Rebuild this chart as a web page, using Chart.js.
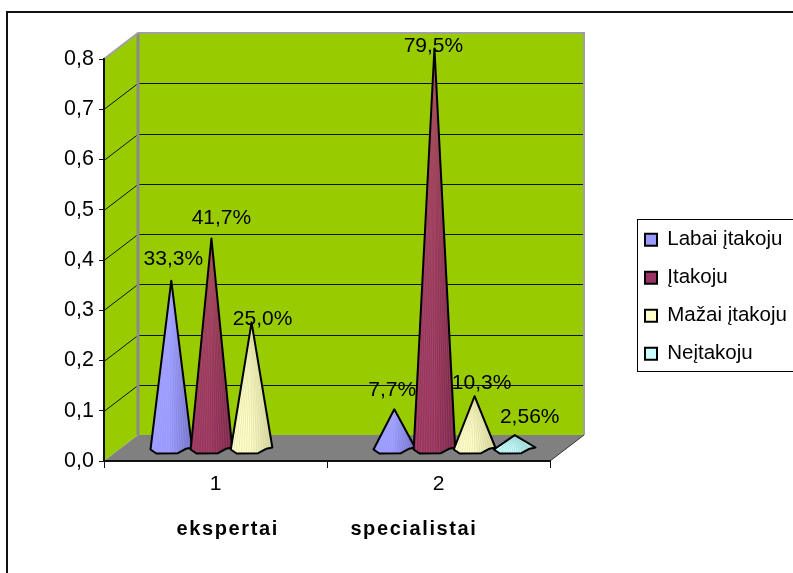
<!DOCTYPE html>
<html>
<head>
<meta charset="utf-8">
<style>html,body{margin:0;padding:0;background:#fff}canvas{display:block}</style>
<script src="https://cdn.jsdelivr.net/npm/chart.js@4/dist/chart.umd.js"></script>
</head>
<body>
<canvas id="c" width="793" height="573"></canvas>
<script>
const categories = ['1', '2'];
const yTickLabels = ['0,0', '0,1', '0,2', '0,3', '0,4', '0,5', '0,6', '0,7', '0,8'];
const seriesNames = ['Labai įtakoju', 'Įtakoju', 'Mažai įtakoju', 'Neįtakoju'];
const labaiItakoju = [0.333, 0.077];
const itakoju = [0.417, 0.795];
const mazaiItakoju = [0.25, 0.103];
const neitakoju = [null, 0.0256];
const labaiLabels = ['33,3%', '7,7%'];
const itakojuLabels = ['41,7%', '79,5%'];
const mazaiLabels = ['25,0%', '10,3%'];
const neitakojuLabels = [null, '2,56%'];
const axisTitle = 'ekspertai          specialistai';

const FONT = '"Liberation Sans", Arial, sans-serif';
const DEPTH_X = 34, DEPTH_Y = -26;
const fills = ['#9999FF', '#993366', '#FFFFCC', '#CCFFFF'];
const shades = ['#6f6fc4', '#7a2450', '#d6d6a4', '#a4d8d8'];
const streaks = ['rgba(200,200,255,.2)', 'rgba(200,150,70,.22)', 'rgba(190,190,120,.3)', 'rgba(130,190,190,.45)'];
const pointLabels = [labaiLabels, itakojuLabels, mazaiLabels, neitakojuLabels];
// Excel's hand-moved label offsets from the cone tip, [dx, dy] per series per category
const labelNudge = [
  [[2, -21], [-2, -19]],
  [[10, -20], [-1, -2]],
  [[11, -3], [7, -13]],
  [[0, 0], [15, -18]]
];
// lower rim of a cone, from right to left, in units of its half width / rim depth
const rim = [[1, 0], [.72, .2], [.32, .95], [-.72, 1], [-1, .33]];

function conePath(ctx, cx, tip, by, hw) {
  ctx.beginPath();
  ctx.moveTo(cx, tip);
  rim.forEach(p => ctx.lineTo(cx + p[0] * hw, by + p[1] * 6));
  ctx.closePath();
}

const scene = {
  id: 'scene',
  afterLayout(chart) {
    const lg = chart.legend;
    lg.left = 627.5; lg.right = 800; lg.top = 212; lg.bottom = 573;
    const s = chart.scales.x;
    if (!s._spaced) {
      const orig = s.drawTitle.bind(s);
      s.drawTitle = function () {
        chart.ctx.save();
        chart.ctx.letterSpacing = '1.6px';
        orig();
        chart.ctx.restore();
      };
      s._spaced = true;
    }
  },
  beforeDraw(chart) {
    const { ctx, chartArea: a, scales: { y } } = chart;
    ctx.save();
    ctx.fillStyle = '#fff';
    ctx.fillRect(0, 0, chart.width, chart.height);
    // frame of the picture: only top and left survive in the crop
    ctx.fillStyle = '#111';
    ctx.fillRect(6, 11, 2, chart.height - 11);
    ctx.fillRect(6, 11, chart.width - 6, 2);

    const bl = a.left + DEPTH_X, br = a.right + DEPTH_X, bt = a.top + DEPTH_Y, bb = a.bottom + DEPTH_Y;
    // back wall
    ctx.fillStyle = '#99CC00';
    ctx.fillRect(bl, bt, br - bl, bb - bt);
    // side wall
    ctx.beginPath();
    ctx.moveTo(a.left, a.top); ctx.lineTo(bl, bt); ctx.lineTo(bl, bb); ctx.lineTo(a.left, a.bottom); ctx.closePath();
    ctx.fill();
    // floor
    ctx.fillStyle = '#808080';
    ctx.beginPath();
    ctx.moveTo(a.left, a.bottom); ctx.lineTo(bl, bb); ctx.lineTo(br, bb); ctx.lineTo(a.right, a.bottom); ctx.closePath();
    ctx.fill();
    // gridlines along side and back wall
    ctx.strokeStyle = '#111';
    ctx.lineWidth = 1;
    y.ticks.forEach(t => {
      if (t.value < 0.05) return;
      const py = Math.round(y.getPixelForValue(t.value));
      if (t.value > 0.75) return;
      ctx.beginPath();
      ctx.moveTo(a.left, py + .5); ctx.lineTo(bl, py + DEPTH_Y + .5); ctx.lineTo(br, py + DEPTH_Y + .5);
      ctx.stroke();
    });
    // wall edges
    ctx.strokeStyle = '#8a8a8a';
    ctx.lineWidth = 3;
    ctx.beginPath(); ctx.moveTo(bl, bt); ctx.lineTo(bl, bb); ctx.stroke();
    ctx.lineWidth = 2;
    ctx.strokeStyle = '#a0a0a0';
    ctx.beginPath(); ctx.moveTo(a.left, a.top); ctx.lineTo(bl, bt); ctx.lineTo(br, bt); ctx.lineTo(br, bb); ctx.stroke();
    // floor right edge
    ctx.strokeStyle = '#333';
    ctx.lineWidth = 1;
    ctx.beginPath(); ctx.moveTo(a.right, a.bottom); ctx.lineTo(br, bb); ctx.stroke();
    // legend frame
    ctx.strokeStyle = '#000';
    ctx.strokeRect(637.5, 219.5, 170, 152);
    ctx.restore();
  },
  beforeDatasetsDraw(chart) {
    const { ctx } = chart;
    ctx.save();
    const dx = DEPTH_X / 2 - 1, dy = DEPTH_Y / 2;
    const cols = chart.data.labels.length;
    for (let c = 0; c < cols; c++) {
      chart.data.datasets.forEach((ds, i) => {
        const el = chart.getDatasetMeta(i).data[c];
        if (ds.data[c] == null) return;
        const cx = el.x + dx, tip = el.y + dy, by = el.base + dy, hw = el.width / 2 + .7;
        const g = ctx.createLinearGradient(cx - hw, 0, cx + hw, 0);
        g.addColorStop(0, fills[i]);
        g.addColorStop(.45, fills[i]);
        g.addColorStop(1, shades[i]);
        conePath(ctx, cx, tip, by, hw);
        ctx.fillStyle = g;
        ctx.fill();
        ctx.save();
        ctx.clip();
        ctx.strokeStyle = streaks[i];
        ctx.lineWidth = 1;
        for (let k = -7; k <= 7; k++) {
          ctx.beginPath();
          ctx.moveTo(cx + k * hw / 60, tip);
          ctx.lineTo(cx + k * hw / 8, by + 6);
          ctx.stroke();
        }
        ctx.restore();
        conePath(ctx, cx, tip, by, hw);
        ctx.strokeStyle = '#000';
        ctx.lineWidth = 2;
        ctx.lineJoin = 'round';
        ctx.stroke();
      });
    }
    ctx.fillStyle = '#000';
    ctx.font = '21px ' + FONT;
    ctx.textAlign = 'center';
    ctx.textBaseline = 'middle';
    for (let c = 0; c < cols; c++) {
      chart.data.datasets.forEach((ds, i) => {
        const text = pointLabels[i][c];
        if (!text) return;
        const el = chart.getDatasetMeta(i).data[c];
        ctx.fillText(text, el.x + dx + labelNudge[i][c][0], el.y + dy + labelNudge[i][c][1]);
      });
    }
    ctx.restore();
    return false;
  }
};

const seriesValues = [labaiItakoju, itakoju, mazaiItakoju, neitakoju];
new Chart(document.getElementById('c'), {
  type: 'bar',
  data: {
    labels: categories,
    datasets: seriesNames.map((name, i) => ({
      label: name,
      data: seriesValues[i],
      backgroundColor: fills[i],
      borderColor: '#000',
      borderWidth: 2,
      categoryPercentage: 0.72,
      barPercentage: 1
    }))
  },
  plugins: [scene],
  options: {
    responsive: false,
    animation: false,
    layout: { padding: { top: 59, right: 243, left: 0, bottom: 0 } },
    plugins: {
      tooltip: { enabled: false },
      legend: {
        position: 'chartArea',
        align: 'start',
        labels: {
          boxWidth: 12, boxHeight: 12, padding: 17.5,
          color: '#000',
          font: { family: FONT, size: 20.5 }
        }
      }
    },
    scales: {
      x: {
        afterFit: s => { s.height = 112; },
        border: { color: '#111', width: 2 },
        grid: { drawOnChartArea: false, color: '#111', tickLength: 7, offset: true },
        ticks: { color: '#000', font: { family: FONT, size: 21 }, padding: 4, maxRotation: 0 },
        title: {
          display: true,
          text: axisTitle,
          color: '#000',
          font: { family: FONT, size: 20, weight: 'bold' },
          padding: { top: 0, bottom: 32 }
        }
      },
      y: {
        min: 0, max: 0.8,
        afterFit: s => { s.width = 104; },
        border: { color: '#111', width: 2 },
        grid: { drawOnChartArea: false, color: '#111', tickLength: 5 },
        ticks: {
          stepSize: 0.1,
          color: '#000',
          padding: 5,
          font: { family: FONT, size: 21.5 },
          callback: (v, i) => yTickLabels[i]
        }
      }
    }
  }
});
</script>
</body>
</html>
